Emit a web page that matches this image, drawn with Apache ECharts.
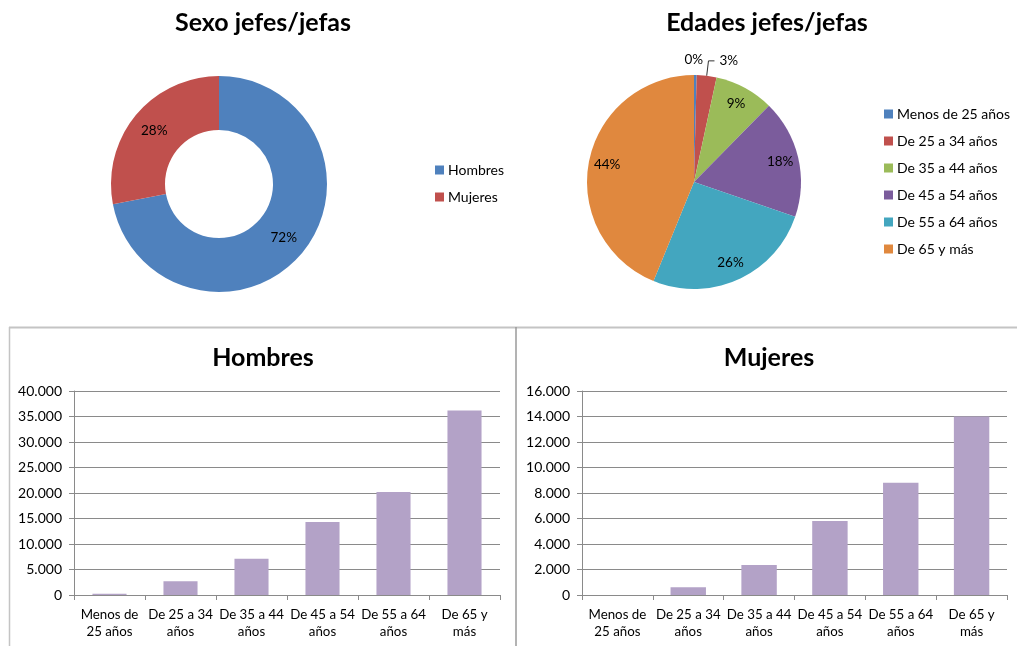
<!DOCTYPE html>
<html>
<head>
<meta charset="utf-8">
<script src="https://cdn.jsdelivr.net/npm/echarts@6/dist/echarts.min.js"></script>
<style>
html,body{margin:0;padding:0;background:#fff;}
#c{width:1017px;height:646px;}
</style>
</head>
<body>
<div id="c"></div>
<script>
// ---- Data ----
var sexoNames = ['Hombres', 'Mujeres'];
var sexoValues = [72, 28];
var edadNames = ['Menos de 25 años', 'De 25 a 34 años', 'De 35 a 44 años', 'De 45 a 54 años', 'De 55 a 64 años', 'De 65 y más'];
var edadValues = [0.4, 3, 9, 18, 26, 44];
var barCategories = ['Menos de\n25 años', 'De 25 a 34\naños', 'De 35 a 44\naños', 'De 45 a 54\naños', 'De 55 a 64\naños', 'De 65 y\nmás'];
var hombresValues = [250, 2700, 7100, 14300, 20200, 36200];
var mujeresValues = [0, 600, 2350, 5800, 8800, 14000];

var FONT = 'Lato, "Open Sans", sans-serif';
var sexoColors = ['#4f81bd', '#c0504d'];
var edadColors = ['#4f81bd', '#c0504d', '#9bbb59', '#7b5c9c', '#43a6bf', '#e0883e'];
var barColor = '#b3a2c7';
var gridColor = '#8a8a8a';

function fmt(v) {
  return String(v).replace(/\B(?=(\d{3})+(?!\d))/g, '.');
}

var chart = echarts.init(document.getElementById('c'), null, {renderer: 'canvas'});

function items(names, values, colors) {
  return names.map(function (n, i) {
    return {name: n, value: values[i], itemStyle: {color: colors[i]}};
  });
}

var edadMain = items(edadNames, edadValues, edadColors).map(function (d, i) {
  if (i < 2) {
    d.label = {show: true, position: 'outside', color: '#000', fontSize: 13.5, fontFamily: FONT};
    d.labelLine = {show: i === 1, length: 15, length2: 6, lineStyle: {color: '#333', width: 1}};
  } else {
    d.label = {show: false};
    d.labelLine = {show: false};
  }
  return d;
});
var edadRing = items(edadNames, edadValues, edadColors).map(function (d, i) {
  d.itemStyle = {color: 'rgba(0,0,0,0)'};
  d.label = {show: i >= 2};
  return d;
});

function barAxisY(max, interval) {
  return {
    type: 'value', min: 0, max: max, interval: interval,
    axisLine: {show: true, lineStyle: {color: gridColor}},
    axisTick: {show: true, length: 5, lineStyle: {color: gridColor}},
    splitLine: {show: true, lineStyle: {color: gridColor, width: 1}},
    axisLabel: {color: '#000', fontSize: 14, fontFamily: FONT, margin: 12, formatter: fmt}
  };
}
function barAxisX() {
  return {
    type: 'category', data: barCategories,
    axisLine: {show: true, lineStyle: {color: gridColor}},
    axisTick: {show: true, length: 5, alignWithLabel: false, lineStyle: {color: gridColor}},
    axisLabel: {color: '#000', fontSize: 13.3, fontFamily: FONT, margin: 11, lineHeight: 17, interval: 0}
  };
}
var titleStyle = {fontSize: 25, fontWeight: 'bold', color: '#000', fontFamily: FONT};
var legendText = {fontSize: 14, color: '#000', fontFamily: FONT, lineHeight: 14, padding: [0, 0, 0, -1]};

var option = {
  backgroundColor: '#fff',
  animation: false,
  title: [
    {text: 'Sexo jefes/jefas', left: 258, top: 5, textAlign: 'center', textStyle: titleStyle},
    {text: 'Edades jefes/jefas', left: 762, top: 5, textAlign: 'center', textStyle: titleStyle},
    {text: 'Hombres', left: 258, top: 340, textAlign: 'center', textStyle: titleStyle},
    {text: 'Mujeres', left: 764, top: 340, textAlign: 'center', textStyle: titleStyle}
  ],
  legend: [
    {
      data: sexoNames, orient: 'vertical', left: 435, top: 163, padding: 0,
      itemWidth: 9, itemHeight: 9, itemGap: 13, icon: 'rect', textStyle: legendText
    },
    {
      data: edadNames, orient: 'vertical', left: 884, top: 107, padding: 0,
      itemWidth: 9, itemHeight: 9, itemGap: 13, icon: 'rect', textStyle: legendText
    }
  ],
  graphic: [
    {type: 'line', shape: {x1: 9, y1: 327.5, x2: 1017, y2: 327.5}, style: {stroke: '#c4c4c4', lineWidth: 2}, silent: true},
    {type: 'line', shape: {x1: 9.5, y1: 327, x2: 9.5, y2: 646}, style: {stroke: '#c4c4c4', lineWidth: 1.5}, silent: true},
    {type: 'line', shape: {x1: 516, y1: 327, x2: 516, y2: 646}, style: {stroke: '#9a9a9a', lineWidth: 1.5}, silent: true}
  ],
  grid: [
    {left: 74, right: 517, top: 391, bottom: 51},
    {left: 582, right: 10, top: 391, bottom: 51}
  ],
  xAxis: [
    Object.assign(barAxisX(), {gridIndex: 0}),
    Object.assign(barAxisX(), {gridIndex: 1})
  ],
  yAxis: [
    Object.assign(barAxisY(40000, 5000), {gridIndex: 0}),
    Object.assign(barAxisY(16000, 2000), {gridIndex: 1})
  ],
  series: [
    {
      type: 'pie', center: [219, 184], radius: [54, 108], startAngle: 90, clockwise: true,
      percentPrecision: 0,
      data: items(sexoNames, sexoValues, sexoColors),
      label: {show: true, position: 'inside', formatter: '{d}%', color: '#000', fontSize: 13.5, fontFamily: FONT},
      labelLine: {show: false},
      itemStyle: {borderWidth: 0},
      emphasis: {disabled: true}
    },
    {
      type: 'pie', center: [694, 182], radius: [0, 107], startAngle: 90, clockwise: true,
      percentPrecision: 0, avoidLabelOverlap: false,
      data: edadMain,
      label: {formatter: '{d}%', color: '#000', fontSize: 13.5, fontFamily: FONT},
      labelLayout: function (p) {
        if (p.dataIndex === 0) return {dx: -22, dy: 0};
        return {};
      },
      itemStyle: {borderWidth: 0},
      emphasis: {disabled: true}
    },
    {
      type: 'pie', center: [694, 182], radius: [64, 107], startAngle: 90, clockwise: true,
      percentPrecision: 0,
      data: edadRing, silent: true,
      label: {position: 'inside', formatter: '{d}%', color: '#000', fontSize: 13.5, fontFamily: FONT},
      labelLine: {show: false},
      itemStyle: {borderWidth: 0},
      emphasis: {disabled: true}
    },
    {
      type: 'bar', xAxisIndex: 0, yAxisIndex: 0, data: hombresValues,
      barWidth: '48%', itemStyle: {color: barColor}
    },
    {
      type: 'bar', xAxisIndex: 1, yAxisIndex: 1, data: mujeresValues,
      barWidth: '50%', itemStyle: {color: barColor}
    }
  ]
};
chart.setOption(option);
</script>
</body>
</html>
